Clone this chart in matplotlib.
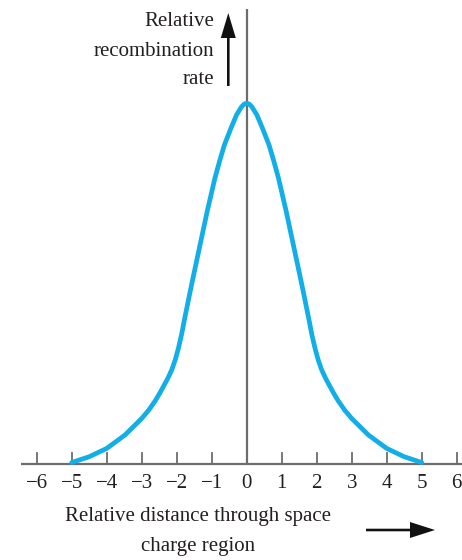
import matplotlib
matplotlib.use("Agg")
import matplotlib.pyplot as plt
from matplotlib.patches import FancyArrow

# Relative distance through the space charge region (x) and relative recombination rate (y)
distance = [-5.0, -4.5, -4.0, -3.48, -3.0, -2.8, -2.62, -2.49, -2.36, -2.25, -2.14,
            -2.04, -1.95, -1.86, -1.78, -1.68, -1.57, -1.46, -1.35, -1.24, -1.13,
            -1.02, -0.91, -0.78, -0.64, -0.45, -0.29, -0.15, -0.07, 0.0,
            0.07, 0.15, 0.29, 0.45, 0.64, 0.78, 0.91, 1.02, 1.13, 1.24, 1.35, 1.46,
            1.57, 1.68, 1.78, 1.86, 1.95, 2.04, 2.14, 2.25, 2.36, 2.49, 2.62, 2.8,
            3.0, 3.48, 4.0, 4.5, 5.0]
rate = [0.005, 0.021, 0.044, 0.081, 0.127, 0.150, 0.175, 0.196, 0.219, 0.239, 0.262,
        0.290, 0.322, 0.360, 0.400, 0.448, 0.500, 0.550, 0.600, 0.650, 0.700,
        0.746, 0.792, 0.838, 0.884, 0.931, 0.968, 0.990, 0.998, 1.000,
        0.998, 0.990, 0.968, 0.931, 0.884, 0.838, 0.792, 0.746, 0.700, 0.650, 0.600, 0.550,
        0.500, 0.448, 0.400, 0.360, 0.322, 0.290, 0.262, 0.239, 0.219, 0.196, 0.175, 0.150,
        0.127, 0.081, 0.044, 0.021, 0.005]
tick_values = [-6, -5, -4, -3, -2, -1, 0, 1, 2, 3, 4, 5, 6]
tick_labels = ["\u22126", "\u22125", "\u22124", "\u22123", "\u22122", "\u22121",
               "0", "1", "2", "3", "4", "5", "6"]

W, H = 462, 560
fig = plt.figure(figsize=(W / 100, H / 100), dpi=100)
fig.patch.set_facecolor("white")

# pixel geometry of the axes
X0_PX, UNIT_PX = 246.7, 35.0      # x = 0 position, pixels per unit
BASE_PX, PEAK_PX = 464.3, 361.0   # baseline row, pixels per unit of rate

ax = fig.add_axes([0, 0, 1, 1])
ax.set_xlim((0 - X0_PX) / UNIT_PX, (W - X0_PX) / UNIT_PX)
ax.set_ylim((BASE_PX - H) / PEAK_PX, BASE_PX / PEAK_PX)
ax.axis("off")

# overlay in pixel coordinates for labels and arrows
ov = fig.add_axes([0, 0, 1, 1], zorder=3)
ov.set_xlim(0, W)
ov.set_ylim(H, 0)
ov.axis("off")
ov.patch.set_alpha(0)

axis_col = "#6d6d6d"
text_col = "#231f20"
serif = "Liberation Serif"

# horizontal axis with upward ticks
ax.plot([(20.7 - X0_PX) / UNIT_PX, (W - X0_PX) / UNIT_PX], [0, 0],
        color=axis_col, lw=1.6, solid_capstyle="butt", zorder=1)
tick_len = 11 / PEAK_PX
for t, lab in zip(tick_values, tick_labels):
    if t != 0:
        ax.plot([t, t], [0, tick_len], color=axis_col, lw=1.3, zorder=1)
    ax.text(t, -19 / PEAK_PX, lab, ha="center", va="center",
            fontsize=15, family=serif, color=text_col)

# vertical axis
ax.plot([0, 0], [0, (BASE_PX - 9) / PEAK_PX], color=axis_col, lw=1.6,
        solid_capstyle="butt", zorder=1)

# recombination rate curve
ax.plot(distance, rate, color="#12aee8", lw=3.4, solid_joinstyle="round",
        solid_capstyle="round", zorder=2)

# x-axis caption and arrow
ov.text(198, 516.5, "Relative distance through space", ha="center", va="center",
        fontsize=15, family=serif, color=text_col)
ov.text(198, 546.5, "charge region", ha="center", va="center",
        fontsize=15, family=serif, color=text_col)
ov.add_patch(FancyArrow(366, 530, 69, 0, width=2.6, head_width=16, head_length=25,
                        length_includes_head=True, color="#111111", lw=0))

# y-axis caption and arrow
for yy, s in [(22, "Relative"), (51, "recombination"), (80, "rate")]:
    ov.text(214, yy, s, ha="right", va="center", fontsize=15, family=serif,
            color=text_col)
ov.add_patch(FancyArrow(228.3, 86, 0, -73, width=2.6, head_width=15, head_length=25,
                        length_includes_head=True, color="#111111", lw=0))

fig.savefig("out.png", dpi=100, facecolor="white")
